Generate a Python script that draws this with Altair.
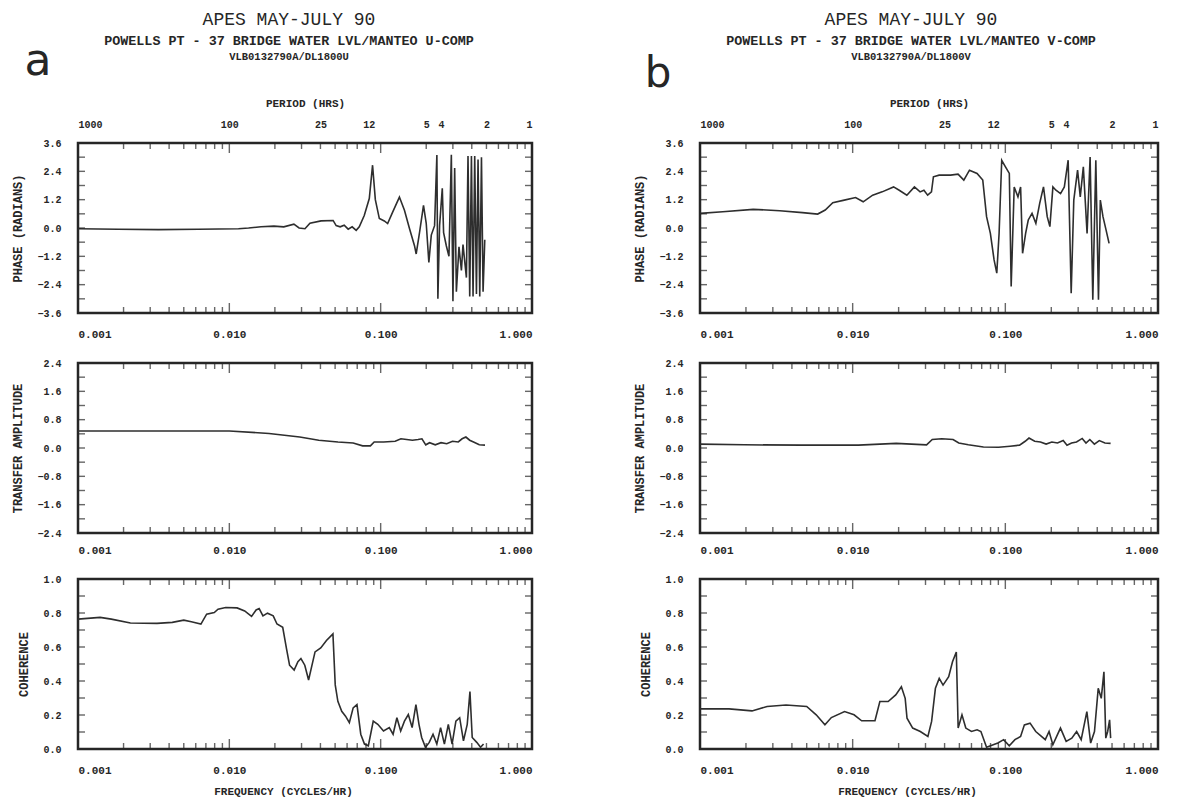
import altair as alt
import pandas as pd

# ---------------- data ----------------
PHASE_A_FREQ = [0.001, 0.00184, 0.0034, 0.00626, 0.0115, 0.0134, 0.0162, 0.0197, 0.0229, 0.0267,
                0.0289, 0.0316, 0.0341, 0.0404, 0.0485, 0.0508, 0.054, 0.0574, 0.061, 0.0648,
                0.0689, 0.0722, 0.0779, 0.0841, 0.0884, 0.0922, 0.098, 0.1057, 0.1112, 0.12,
                0.133, 0.1436, 0.155, 0.1673, 0.1717, 0.1806, 0.1919, 0.2, 0.2082, 0.216,
                0.2271, 0.2352, 0.2388, 0.2451, 0.2554, 0.2605, 0.2715, 0.2826, 0.2931, 0.3003,
                0.3083, 0.3164, 0.3292, 0.3416, 0.35, 0.3686, 0.3777, 0.3877, 0.3979, 0.4078,
                0.4183, 0.4294, 0.44, 0.4516, 0.4635, 0.475, 0.4875]
PHASE_A_VAL = [-0.03, -0.05, -0.07, -0.05, -0.03, 0.0, 0.05, 0.08, 0.05, 0.16,
               0.0, -0.03, 0.2, 0.3, 0.32, 0.1, 0.05, 0.12, -0.05, 0.05,
               -0.1, 0.05, 0.53, 1.25, 2.66, 1.2, 0.4, 0.3, 0.19, 0.67,
               1.31, 0.75, -0.02, -0.75, -1.1, -0.2, 0.96, 0.2, -1.46, -0.3,
               0.1, 3.09, -3.0, 0.1, 1.68, -0.2, -0.75, -1.2, 3.1, -3.1,
               2.54, -2.7, -0.8, -1.8, -0.7, -2.1, 3.05, -2.9, 3.05, -2.9,
               3.05, -2.8, 2.9, -2.9, 3.0, -2.7, -0.5]

AMP_A_FREQ = [0.001, 0.003, 0.006, 0.01, 0.0183, 0.0292, 0.039, 0.0522, 0.0658, 0.076,
              0.0855, 0.0906, 0.1047, 0.1247, 0.1361, 0.1485, 0.1621, 0.1768, 0.1874, 0.1986,
              0.2105, 0.2296, 0.2505, 0.2733, 0.2982, 0.3258, 0.3452, 0.3657, 0.3875, 0.4108,
              0.4484, 0.4891]
AMP_A_VAL = [0.48, 0.48, 0.48, 0.48, 0.41, 0.31, 0.22, 0.17, 0.14, 0.06,
             0.06, 0.17, 0.17, 0.19, 0.26, 0.24, 0.22, 0.24, 0.26, 0.09,
             0.15, 0.09, 0.15, 0.12, 0.19, 0.17, 0.26, 0.31, 0.22, 0.17,
             0.09, 0.08]

COH_A_FREQ = [0.001, 0.0014, 0.00166, 0.00222, 0.00333, 0.0042, 0.005, 0.00561, 0.00649, 0.00708,
              0.00795, 0.00842, 0.00946, 0.01125, 0.01263, 0.01402, 0.01503, 0.01574, 0.01668, 0.01787,
              0.0195, 0.02065, 0.02253, 0.02386, 0.025, 0.02681, 0.02839, 0.02973, 0.03152, 0.0334,
              0.03478, 0.03684, 0.04018, 0.04382, 0.04837, 0.05009, 0.05214, 0.0553, 0.0586, 0.06209,
              0.0658, 0.06972, 0.07387, 0.07817, 0.0829, 0.08933, 0.09572, 0.1044, 0.114, 0.1208,
              0.128, 0.1356, 0.1436, 0.1523, 0.1614, 0.171, 0.1791, 0.1866, 0.1977, 0.2094,
              0.2218, 0.235, 0.2489, 0.2637, 0.2799, 0.2965, 0.3141, 0.3327, 0.3524, 0.3733,
              0.389, 0.4027, 0.4315, 0.4571, 0.4786]
COH_A_VAL = [0.764, 0.774, 0.764, 0.741, 0.739, 0.745, 0.758, 0.749, 0.735, 0.793,
             0.803, 0.822, 0.832, 0.83, 0.812, 0.78, 0.818, 0.826, 0.783, 0.799,
             0.783, 0.735, 0.716, 0.59, 0.493, 0.464, 0.513, 0.532, 0.493, 0.406,
             0.474, 0.571, 0.594, 0.638, 0.677, 0.377, 0.28, 0.222, 0.193, 0.155,
             0.242, 0.261, 0.087, 0.029, 0.019, 0.164, 0.145, 0.106, 0.126, 0.087,
             0.184, 0.106, 0.164, 0.203, 0.126, 0.261, 0.145, 0.068, 0.01, 0.039,
             0.087, 0.029, 0.126, 0.029, 0.145, 0.029, 0.164, 0.184, 0.048, 0.145,
             0.338, 0.068, 0.039, 0.01, 0.029]

PHASE_B_FREQ = [0.001, 0.00141, 0.00223, 0.00333, 0.00469, 0.0059, 0.00661, 0.00741, 0.00881, 0.01045,
                0.01172, 0.01352, 0.0156, 0.01853, 0.02018, 0.02264, 0.02538, 0.02765, 0.02929, 0.03099,
                0.03282, 0.0338, 0.03683, 0.04375, 0.04901, 0.05346, 0.05821, 0.0653, 0.07115, 0.07535,
                0.0798, 0.08439, 0.0879, 0.09101, 0.0947, 0.1002, 0.1062, 0.1092, 0.1143, 0.121,
                0.1259, 0.1297, 0.1358, 0.1413, 0.1496, 0.1585, 0.1679, 0.1778, 0.1881, 0.1958,
                0.2049, 0.2146, 0.2299, 0.2435, 0.2579, 0.27, 0.2808, 0.2973, 0.3096, 0.3243,
                0.3431, 0.3592, 0.3741, 0.3915, 0.4074, 0.419, 0.4361, 0.4567, 0.4782]
PHASE_B_VAL = [0.62, 0.69, 0.79, 0.73, 0.65, 0.59, 0.76, 1.07, 1.18, 1.29,
               1.11, 1.39, 1.53, 1.74, 1.6, 1.39, 1.74, 1.53, 1.6, 1.39,
               1.53, 2.17, 2.24, 2.24, 2.28, 2.03, 2.45, 2.31, 2.03, 0.48,
               -0.23, -1.35, -1.91, -0.23, 2.87, 2.59, 2.31, -2.48, 1.74, 1.32,
               1.74, -1.07, -0.23, 0.34, 0.62, 0.2, 1.04, 1.74, 0.48, 0.06,
               1.74, 1.6, 1.46, 1.74, 2.87, -2.76, 1.18, 2.45, 1.32, 2.59,
               -0.23, 3.01, -3.04, 2.87, -3.04, 1.18, 0.48, -0.08, -0.65]

AMP_B_FREQ = [0.001, 0.00195, 0.00461, 0.01089, 0.01929, 0.03049, 0.03322, 0.03831, 0.04546, 0.04955,
              0.05719, 0.07187, 0.09036, 0.1074, 0.1239, 0.1349, 0.1429, 0.1557, 0.1698, 0.185,
              0.2016, 0.2197, 0.2394, 0.2535, 0.2716, 0.2926, 0.3188, 0.3376, 0.3576, 0.383,
              0.4125, 0.4491, 0.4893]
AMP_B_VAL = [0.11, 0.09, 0.08, 0.08, 0.13, 0.09, 0.24, 0.26, 0.24, 0.14,
             0.09, 0.03, 0.02, 0.05, 0.08, 0.19, 0.28, 0.19, 0.17, 0.11,
             0.17, 0.14, 0.21, 0.08, 0.14, 0.17, 0.27, 0.14, 0.24, 0.11,
             0.21, 0.14, 0.13]

COH_B_FREQ = [0.001, 0.00155, 0.00219, 0.00275, 0.00366, 0.005, 0.00577, 0.00658, 0.00725, 0.00885,
              0.01021, 0.01145, 0.014, 0.01507, 0.01708, 0.01914, 0.02085, 0.02208, 0.0227, 0.02473,
              0.02773, 0.0311, 0.03289, 0.03483, 0.0369, 0.03908, 0.04256, 0.04508, 0.04775, 0.04909,
              0.052, 0.05508, 0.05998, 0.06532, 0.06918, 0.07534, 0.08937, 0.09747, 0.1061, 0.1156,
              0.1259, 0.1333, 0.1452, 0.1582, 0.1724, 0.1826, 0.1934, 0.2048, 0.2169, 0.2297,
              0.2502, 0.2725, 0.2931, 0.3139, 0.342, 0.3622, 0.3836, 0.4059, 0.425, 0.4424,
              0.455, 0.4681, 0.4819, 0.4895]
COH_B_VAL = [0.236, 0.236, 0.224, 0.25, 0.259, 0.25, 0.201, 0.142, 0.185, 0.22,
             0.201, 0.166, 0.166, 0.279, 0.279, 0.318, 0.366, 0.298, 0.181, 0.123,
             0.103, 0.074, 0.162, 0.357, 0.415, 0.376, 0.425, 0.513, 0.571, 0.123,
             0.201, 0.123, 0.103, 0.113, 0.103, 0.01, 0.035, 0.055, 0.019, 0.055,
             0.074, 0.142, 0.152, 0.103, 0.074, 0.055, 0.103, 0.025, 0.074, 0.123,
             0.045, 0.064, 0.103, 0.055, 0.22, 0.035, 0.103, 0.357, 0.298, 0.454,
             0.064, 0.103, 0.172, 0.064]

# axis tick values / labels
X_LABELS = [0.001, 0.01, 0.1, 1.0]
X_MINOR = [0.002, 0.003, 0.004, 0.005, 0.006, 0.007, 0.008, 0.009,
           0.02, 0.03, 0.04, 0.05, 0.06, 0.07, 0.08, 0.09,
           0.2, 0.3, 0.4, 0.5, 0.6, 0.7, 0.8, 0.9]
PERIOD_FREQ = [0.001, 0.01, 0.04, 0.08333, 0.2, 0.25, 0.5, 1.0]
PHASE_LABELS = [-3.6, -2.4, -1.2, 0.0, 1.2, 2.4, 3.6]
PHASE_TICKS = [-3.0, -2.4, -1.8, -1.2, -0.6, 0.0, 0.6, 1.2, 1.8, 2.4, 3.0]
AMP_LABELS = [-2.4, -1.6, -0.8, 0.0, 0.8, 1.6, 2.4]
AMP_TICKS = [-2.0, -1.6, -1.2, -0.8, -0.4, 0.0, 0.4, 0.8, 1.2, 1.6, 2.0]
COH_LABELS = [0.0, 0.2, 0.4, 0.6, 0.8, 1.0]
COH_TICKS = [0.1, 0.2, 0.3, 0.4, 0.5, 0.6, 0.7, 0.8, 0.9]

TITLE_1 = "APES MAY-JULY 90"
TITLE_2A = "POWELLS PT - 37 BRIDGE WATER LVL/MANTEO U-COMP"
TITLE_2B = "POWELLS PT - 37 BRIDGE WATER LVL/MANTEO V-COMP"
TITLE_3A = "VLB0132790A/DL1800U"
TITLE_3B = "VLB0132790A/DL1800V"

# ---------------- style ----------------
INK = "#262626"
LINE = "#2e2e2e"
MONO = "Liberation Mono"
H = 170


def header(text, dx, dy, size, weight="bold", font=MONO, baseline="middle"):
    return alt.Chart(pd.DataFrame({"t": [text]})).mark_text(
        font=font, fontSize=size, fontWeight=weight, color=INK, align="center", baseline=baseline
    ).encode(text="t:N", x=alt.value(dx), y=alt.value(dy))


def xticks(values, size, ypos):
    return alt.Chart(pd.DataFrame({"f": values})).mark_tick(
        orient="vertical", size=size, thickness=1.4, color=INK
    ).encode(x=alt.X("f:Q", axis=None), y=alt.value(ypos))


def yticks(values, size, xpos):
    return alt.Chart(pd.DataFrame({"v": values})).mark_tick(
        orient="horizontal", size=size, thickness=1.4, color=INK
    ).encode(y=alt.Y("v:Q", axis=None), x=alt.value(xpos))


def panel(freqs, vals, W, ydom, ylabels, ytickvals, ytitle, xtitle=None, headers=None,
          period=False, xlabpad=15):
    df = pd.DataFrame({"f": freqs, "v": vals})
    xs = alt.Scale(type="log", domain=[0.001, 1.0], nice=False)
    ys = alt.Scale(domain=ydom, nice=False, zero=False)
    base = alt.Chart(df)

    xaxis_kw = dict(values=X_LABELS, format=".3f", ticks=False, domain=False, grid=False,
                    labelFontSize=11, labelPadding=xlabpad, labelOverlap=False)
    if xtitle:
        xaxis_kw.update(titleFontSize=11, titlePadding=10, titleX=W / 2 - 22)
    line = base.mark_line(color=LINE, strokeWidth=1.6, clip=True).encode(
        x=alt.X("f:Q", scale=xs, title=xtitle if xtitle else None, axis=alt.Axis(**xaxis_kw)),
        y=alt.Y("v:Q", scale=ys, title=ytitle,
                axis=alt.Axis(values=ylabels, format=".1f", ticks=False, domain=False, grid=False,
                              labelFontSize=10, labelPadding=17, titleFontSize=12, titlePadding=12)),
    )
    layers = [
        line,
        xticks(X_LABELS, 10, 5), xticks(X_MINOR, 6, 3),
        xticks(X_LABELS, 10, H - 5), xticks(X_MINOR, 6, H - 3),
        yticks(ytickvals, 7, 3.5), yticks(ytickvals, 7, W - 3.5),
    ]
    if period:
        per = base.mark_line(opacity=0).encode(
            x=alt.X("f:Q", scale=xs, title="PERIOD (HRS)",
                    axis=alt.Axis(orient="top", values=PERIOD_FREQ, labelExpr="round(1/datum.value)",
                                  ticks=False, domain=False, grid=False, labelFontSize=10, labelPadding=14,
                                  labelOverlap=False, titleFontSize=11, titlePadding=11)),
            y=alt.Y("v:Q", scale=ys, axis=None),
        )
        layers.append(per)
    if headers:
        layers.extend(headers)
    return (alt.layer(*layers)
            .resolve_axis(x="independent", y="independent")
            .properties(width=W, height=H))


WA, WB = 454, 458

hdrA = [
    header(TITLE_1, 211, -123, 18, weight="normal"),
    header(TITLE_2A, 211, -102, 13.4),
    header(TITLE_3A, 211, -86, 10.5),
    header("a", -40, -68, 44, weight="normal", font="DejaVu Sans", baseline="alphabetic"),
]
hdrB = [
    header(TITLE_1, 211, -123, 18, weight="normal"),
    header(TITLE_2B, 211, -102, 13.4),
    header(TITLE_3B, 211, -86, 10.5),
    header("b", -42, -56, 42, weight="normal", font="DejaVu Sans", baseline="alphabetic"),
]

phaseA = panel(PHASE_A_FREQ, PHASE_A_VAL, WA, [-3.6, 3.6], PHASE_LABELS, PHASE_TICKS,
               "PHASE (RADIANS)", headers=hdrA, period=True)
ampA = panel(AMP_A_FREQ, AMP_A_VAL, WA, [-2.4, 2.4], AMP_LABELS, AMP_TICKS, "TRANSFER AMPLITUDE",
             xlabpad=11)
cohA = panel(COH_A_FREQ, COH_A_VAL, WA, [0.0, 1.0], COH_LABELS, COH_TICKS, "COHERENCE",
             xtitle="FREQUENCY (CYCLES/HR)")

phaseB = panel(PHASE_B_FREQ, PHASE_B_VAL, WB, [-3.6, 3.6], PHASE_LABELS, PHASE_TICKS,
               "PHASE (RADIANS)", headers=hdrB, period=True)
ampB = panel(AMP_B_FREQ, AMP_B_VAL, WB, [-2.4, 2.4], AMP_LABELS, AMP_TICKS, "TRANSFER AMPLITUDE",
             xlabpad=11)
cohB = panel(COH_B_FREQ, COH_B_VAL, WB, [0.0, 1.0], COH_LABELS, COH_TICKS, "COHERENCE",
             xtitle="FREQUENCY (CYCLES/HR)")

colA = alt.vconcat(phaseA, ampA, cohA, spacing=15)
colB = alt.vconcat(phaseB, ampB, cohB, spacing=15)

chart = (
    alt.hconcat(colA, colB, spacing=98)
    .properties(padding={"left": 2, "top": 1, "right": 5, "bottom": 0}, background="white")
    .configure_view(stroke=INK, strokeWidth=2.5)
    .configure_axis(labelFont=MONO, titleFont=MONO, labelFontWeight="bold", titleFontWeight="bold",
                    labelColor=INK, titleColor=INK)
)

chart.save("out.html", embed_options={"renderer": "svg", "actions": False})
